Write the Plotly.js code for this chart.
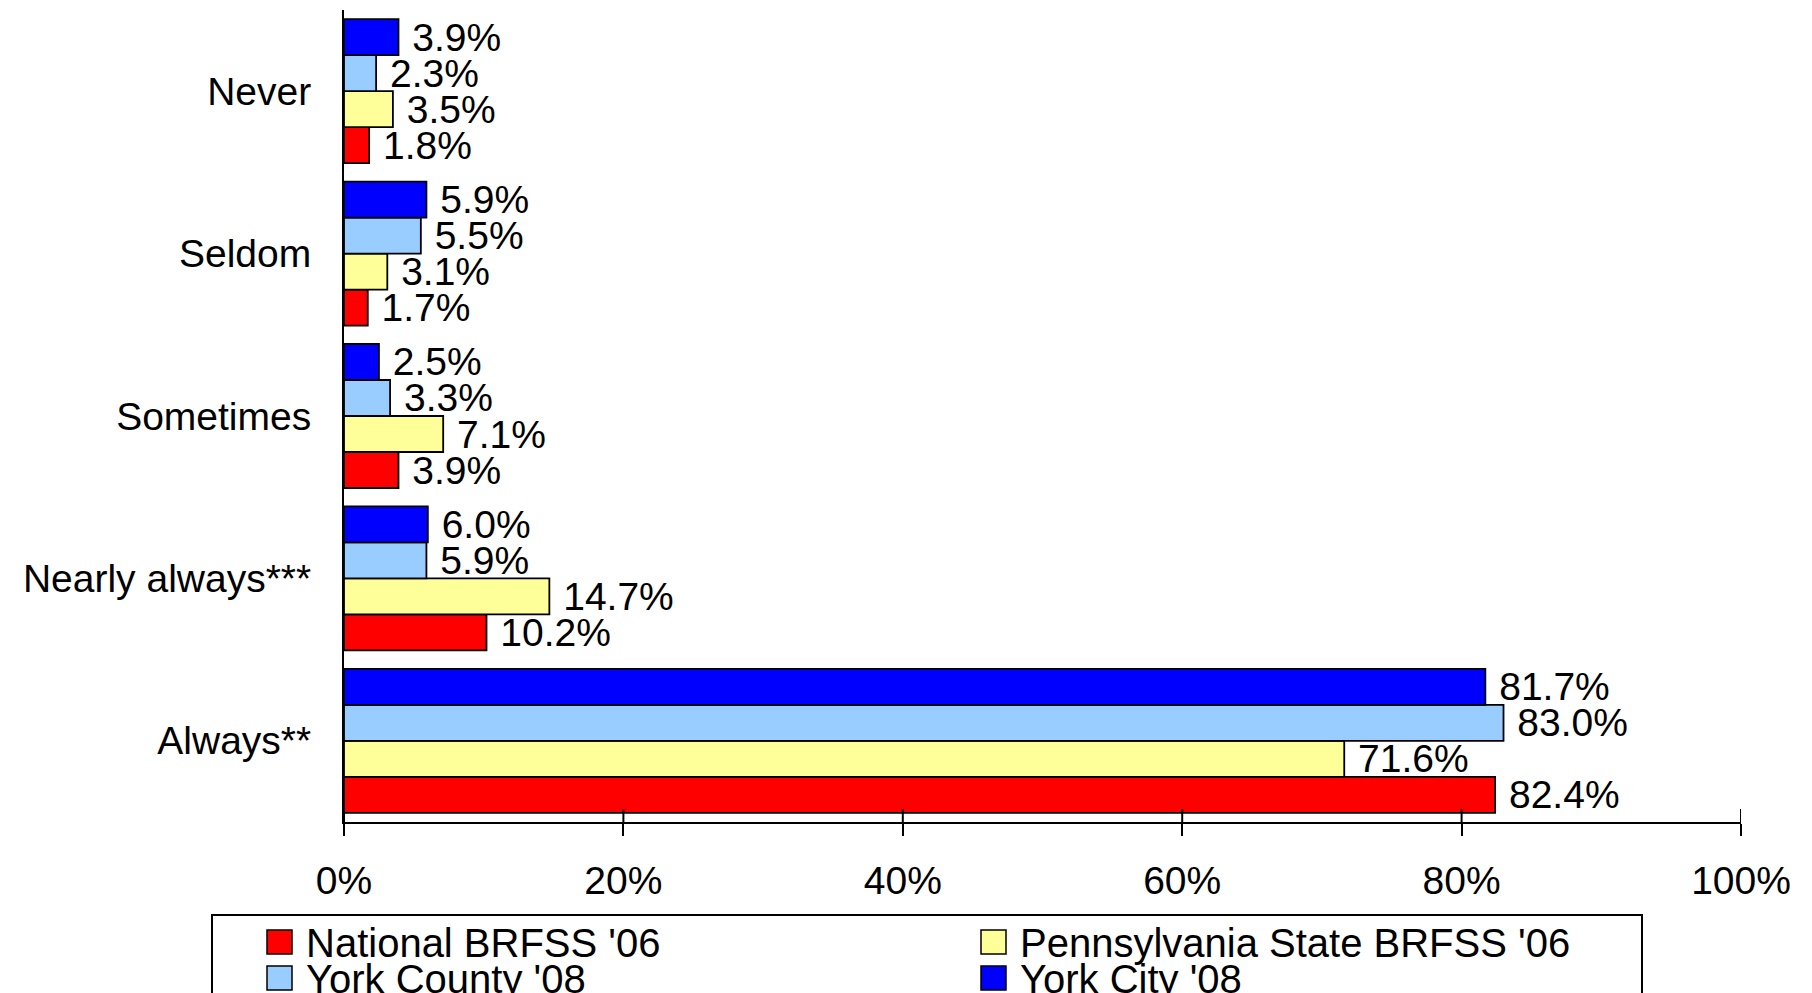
<!DOCTYPE html>
<html>
<head>
<meta charset="utf-8">
<script src="https://cdn.plot.ly/plotly-3.0.1.min.js"></script>
<style>html,body{margin:0;padding:0;background:#fff;}#chart{width:1812px;height:993px;}</style>
</head>
<body>
<div id="chart"></div>
<script>
// ---- data ----
const categories = ['Never', 'Seldom', 'Sometimes', 'Nearly always***', 'Always**'];
const seriesNames = ["National BRFSS '06", "Pennsylvania State BRFSS '06", "York County '08", "York City '08"];
const nationalVals = [1.8, 1.7, 3.9, 10.2, 82.4];
const pennsylvaniaVals = [3.5, 3.1, 7.1, 14.7, 71.6];
const yorkCountyVals = [2.3, 5.5, 3.3, 5.9, 83.0];
const yorkCityVals = [3.9, 5.9, 2.5, 6.0, 81.7];
const xTickVals = [0, 20, 40, 60, 80, 100];
const xTickText = ['0%', '20%', '40%', '60%', '80%', '100%'];

// ---- style ----
const colors = ['#FF0000', '#FFFF99', '#99CCFF', '#0000FF'];
const FONT = 'Liberation Sans, Arial, Helvetica, sans-serif';
const W = 1812, H = 993;
const M = {l: 344, r: 71, t: 10, b: 171};
const plotW = W - M.l - M.r, plotH = H - M.t - M.b;
const px2x = p => (p - M.l) / plotW;
const px2y = p => (H - M.b - p) / plotH;

const valueSets = [nationalVals, pennsylvaniaVals, yorkCountyVals, yorkCityVals];
const traces = valueSets.map((vals, i) => ({
  type: 'bar',
  orientation: 'h',
  name: seriesNames[i],
  y: categories,
  x: vals,
  marker: {color: colors[i], line: {color: '#000', width: 1.8}},
  texttemplate: '\u00a0%{x:.1f}%',
  textposition: 'outside',
  constraintext: 'none',
  cliponaxis: false,
  textfont: {family: FONT, size: 39, color: '#000'},
  hoverinfo: 'skip',
  showlegend: false
}));

// legend (drawn manually to match large square swatches)
const shapes = [];
const annotations = [];
shapes.push({type: 'rect', xref: 'paper', yref: 'paper',
  x0: px2x(212), x1: px2x(1642), y0: px2y(1005), y1: px2y(915),
  line: {color: '#000', width: 2}, fillcolor: 'rgba(0,0,0,0)'});
const legPos = [
  {mx: 267, tx: 304, cy: 942},
  {mx: 981, tx: 1018, cy: 942},
  {mx: 267, tx: 304, cy: 978},
  {mx: 981, tx: 1018, cy: 978}
];
legPos.forEach((p, i) => {
  shapes.push({type: 'rect', xref: 'paper', yref: 'paper',
    x0: px2x(p.mx), x1: px2x(p.mx + 25), y0: px2y(p.cy + 12), y1: px2y(p.cy - 12),
    line: {color: '#000', width: 1.5}, fillcolor: colors[i]});
  annotations.push({xref: 'paper', yref: 'paper', x: px2x(p.tx), y: px2y(p.cy + 1),
    xanchor: 'left', yanchor: 'middle', showarrow: false, text: seriesNames[i],
    font: {family: FONT, size: 40, color: '#000'}});
});
// inner half of crossing x ticks
xTickVals.forEach(v => {
  shapes.push({type: 'line', xref: 'x', yref: 'paper', x0: v, x1: v, y0: 0, y1: 13 / plotH,
    line: {color: '#000', width: 2}});
});

const layout = {
  width: W, height: H,
  margin: M,
  paper_bgcolor: '#fff', plot_bgcolor: '#fff',
  barmode: 'group', bargap: 0.113, bargroupgap: 0,
  showlegend: false,
  font: {family: FONT, color: '#000'},
  xaxis: {
    range: [0, 100], tickvals: xTickVals, ticktext: xTickText,
    showgrid: false, zeroline: false, showline: true, linecolor: '#000', linewidth: 2,
    ticks: 'outside', ticklen: 12, tickwidth: 2, tickcolor: '#000',
    ticklabelstandoff: 11,
    tickfont: {family: FONT, size: 39, color: '#000'}, fixedrange: true
  },
  yaxis: {
    type: 'category', categoryorder: 'array', categoryarray: categories.slice().reverse(),
    showgrid: false, zeroline: false, showline: true, linecolor: '#000', linewidth: 2,
    ticks: '', ticklabelstandoff: 23,
    tickfont: {family: FONT, size: 39, color: '#000'}, fixedrange: true
  },
  shapes: shapes,
  annotations: annotations
};

Plotly.newPlot('chart', traces, layout, {displayModeBar: false, staticPlot: true});
</script>
</body>
</html>
